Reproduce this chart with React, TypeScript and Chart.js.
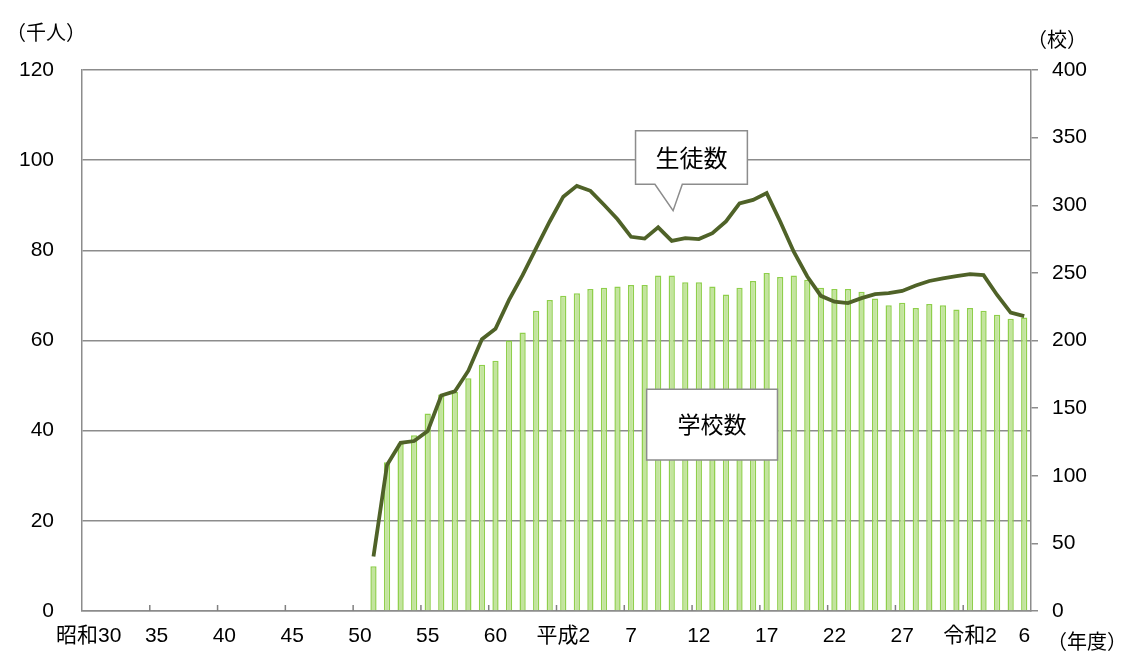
import React, { useEffect, useRef } from "react";
import { Chart, registerables } from "chart.js";

Chart.register(...registerables);

// Fiscal years 昭和30 (1955) … 令和6 (2024)
const categories = [
  "昭和30", "昭和31", "昭和32", "昭和33", "昭和34", "昭和35", "昭和36", "昭和37", "昭和38", "昭和39",
  "昭和40", "昭和41", "昭和42", "昭和43", "昭和44", "昭和45", "昭和46", "昭和47", "昭和48", "昭和49",
  "昭和50", "昭和51", "昭和52", "昭和53", "昭和54", "昭和55", "昭和56", "昭和57", "昭和58", "昭和59",
  "昭和60", "昭和61", "昭和62", "昭和63", "平成元", "平成2", "平成3", "平成4", "平成5", "平成6",
  "平成7", "平成8", "平成9", "平成10", "平成11", "平成12", "平成13", "平成14", "平成15", "平成16",
  "平成17", "平成18", "平成19", "平成20", "平成21", "平成22", "平成23", "平成24", "平成25", "平成26",
  "平成27", "平成28", "平成29", "平成30", "令和元", "令和2", "令和3", "令和4", "令和5", "令和6",
];

// Tick labels shown under the x axis
const tickIndex = [0, 5, 10, 15, 20, 25, 30, 35, 40, 45, 50, 55, 60, 65, 69];
const tickText = ["昭和30", "35", "40", "45", "50", "55", "60", "平成2", "7", "12", "17", "22", "27", "令和2", "6"];

// 学校数 (校) — right axis
const schools = [
  null, null, null, null, null, null, null, null, null, null,
  null, null, null, null, null, null, null, null, null, null,
  null, 33, 110, 124, 130, 146, 160, 162, 172, 182,
  185, 200, 206, 222, 230, 233, 235, 238, 239, 240,
  241, 241, 248, 248, 243, 243, 240, 234, 239, 244,
  250, 247, 248, 245, 239, 238, 238, 236, 231, 226,
  228, 224, 227, 226, 223, 224, 222, 219, 216, 217,
];

// 生徒数 (千人) — left axis
const students = [
  null, null, null, null, null, null, null, null, null, null,
  null, null, null, null, null, null, null, null, null, null,
  null, 12.1, 32.4, 37.3, 37.7, 39.9, 47.8, 48.7, 53.3, 60.3,
  62.6, 69.0, 74.5, 80.5, 86.4, 91.9, 94.3, 93.2, 90.1, 86.9,
  83.0, 82.6, 85.1, 82.1, 82.7, 82.5, 83.8, 86.4, 90.4, 91.2,
  92.7, 86.4, 79.7, 74.2, 69.9, 68.6, 68.3, 69.4, 70.3, 70.5,
  71.0, 72.2, 73.2, 73.8, 74.3, 74.7, 74.5, 70.1, 66.2, 65.4,
];

const leftTicks = { min: 0, max: 120, step: 20 };
const rightTicks = { min: 0, max: 400, step: 50 };

const FONT = "'Liberation Sans', 'Noto Sans CJK JP', sans-serif";
const CJK = "'Noto Sans CJK JP', sans-serif";
const GRID = "#8c8c8c";

const decorPlugin = {
  id: "decor",
  afterDatasetsDraw(chart: any) {
    const ctx = chart.ctx;
    const xs = chart.scales.x;
    const ys = chart.scales.y;
    const area = chart.chartArea;
    const x0 = xs.getPixelForValue(0);
    const step = xs.getPixelForValue(1) - x0;
    const px = (i: number) => x0 + i * step;
    ctx.save();
    // inner tick marks on x axis at category boundaries every 5 years
    ctx.strokeStyle = "#808080";
    ctx.lineWidth = 1.5;
    for (let i = 5; i < categories.length; i += 5) {
      const bx = px(i - 0.5);
      ctx.beginPath();
      ctx.moveTo(bx, area.bottom);
      ctx.lineTo(bx, area.bottom - 6);
      ctx.stroke();
    }

    const drawBox = (l: number, t: number, r: number, b: number, pointer?: number[]) => {
      ctx.beginPath();
      ctx.moveTo(l, t);
      ctx.lineTo(r, t);
      ctx.lineTo(r, b);
      if (pointer) {
        ctx.lineTo(pointer[4], b);
        ctx.lineTo(pointer[2], pointer[3]);
        ctx.lineTo(pointer[0], b);
      }
      ctx.lineTo(l, b);
      ctx.closePath();
      ctx.fillStyle = "#ffffff";
      ctx.fill();
      ctx.strokeStyle = GRID;
      ctx.lineWidth = 1.5;
      ctx.stroke();
    };
    // callout 生徒数
    {
      const l = px(40.33), r = px(48.58);
      const t = ys.getPixelForValue(106.5), b = ys.getPixelForValue(94.65);
      drawBox(l, t, r, b, [px(41.76), b, px(43.1), ys.getPixelForValue(88.8), px(43.78)]);
      ctx.fillStyle = "#000";
      ctx.font = `24px ${CJK}`;
      ctx.textAlign = "center";
      ctx.textBaseline = "middle";
      ctx.fillText("生徒数", (l + r) / 2, (t + b) / 2);
    }
    // callout 学校数
    {
      const l = px(41.15), r = px(50.8);
      const t = ys.getPixelForValue(49.2), b = ys.getPixelForValue(33.5);
      drawBox(l, t, r, b);
      ctx.fillStyle = "#000";
      ctx.font = `23px ${CJK}`;
      ctx.textAlign = "center";
      ctx.textBaseline = "middle";
      ctx.fillText("学校数", (l + r) / 2, (t + b) / 2);
    }
    ctx.restore();
  },
  afterDraw(chart: any) {
    const ctx = chart.ctx;
    const area = chart.chartArea;
    ctx.save();
    ctx.fillStyle = "#000";
    ctx.font = `20px ${CJK}`;
    ctx.textBaseline = "middle";
    ctx.textAlign = "left";
    ctx.fillText("（千人）", area.left - 76, area.top - 38);
    ctx.fillText("（校）", area.right - 4, area.top - 31);
    ctx.fillText("（年度）", area.right + 16, area.bottom + 30);
    ctx.restore();
  },
};

export default function App() {
  const ref = useRef<HTMLCanvasElement | null>(null);

  useEffect(() => {
    document.body.style.margin = "0";
    if (!ref.current) return;
    const chart = new Chart(ref.current, {
      type: "bar",
      data: {
        labels: categories,
        datasets: [
          {
            type: "line",
            label: "生徒数",
            data: students as any,
            yAxisID: "y",
            borderColor: "#4f6228",
            borderWidth: 3.8,
            pointRadius: 0,
            tension: 0,
            order: 0,
          } as any,
          {
            type: "bar",
            label: "学校数",
            data: schools as any,
            yAxisID: "y1",
            backgroundColor: "#c3e49e",
            borderColor: "#8fcf4c",
            borderWidth: 1.5,
            categoryPercentage: 1,
            barPercentage: 0.46,
            order: 1,
          } as any,
        ],
      },
      options: {
        responsive: false,
        animation: false,
        devicePixelRatio: 1,
        layout: { padding: { top: 70, left: 0, right: 0, bottom: 0 } },
        plugins: {
          legend: { display: false },
          tooltip: { enabled: false },
        },
        scales: {
          x: {
            type: "category",
            offset: true,
            grid: { display: false, drawTicks: false },
            border: { display: true, color: GRID, width: 1.5 },
            ticks: {
              autoSkip: false,
              maxRotation: 0,
              minRotation: 0,
              padding: 13,
              color: "#000",
              font: { family: FONT, size: 21 },
              callback: (_v: any, i: number) => {
                const k = tickIndex.indexOf(i);
                return k >= 0 ? tickText[k] : "";
              },
            },
            afterFit: (s: any) => {
              s.height = 61;
            },
          },
          y: {
            position: "left",
            min: leftTicks.min,
            max: leftTicks.max,
            grid: { color: GRID, lineWidth: 1.5, drawTicks: false },
            border: { display: true, color: GRID, width: 1.5 },
            ticks: {
              stepSize: leftTicks.step,
              padding: 28,
              color: "#000",
              font: { family: FONT, size: 21 },
            },
            afterFit: (s: any) => {
              s.width = 82;
            },
          },
          y1: {
            position: "right",
            min: rightTicks.min,
            max: rightTicks.max,
            grid: { drawOnChartArea: false, drawTicks: true, tickLength: 7, color: GRID, lineWidth: 1.5 },
            border: { display: true, color: GRID, width: 1.5 },
            ticks: {
              stepSize: rightTicks.step,
              padding: 14,
              color: "#000",
              font: { family: FONT, size: 21 },
            },
            afterFit: (s: any) => {
              s.width = 101;
            },
          },
        },
      },
      plugins: [decorPlugin],
    });
    return () => chart.destroy();
  }, []);

  return (
    <div style={{ width: 1132, height: 672, background: "#fff" }}>
      <canvas ref={ref} width={1132} height={672} style={{ display: "block" }} />
    </div>
  );
}
